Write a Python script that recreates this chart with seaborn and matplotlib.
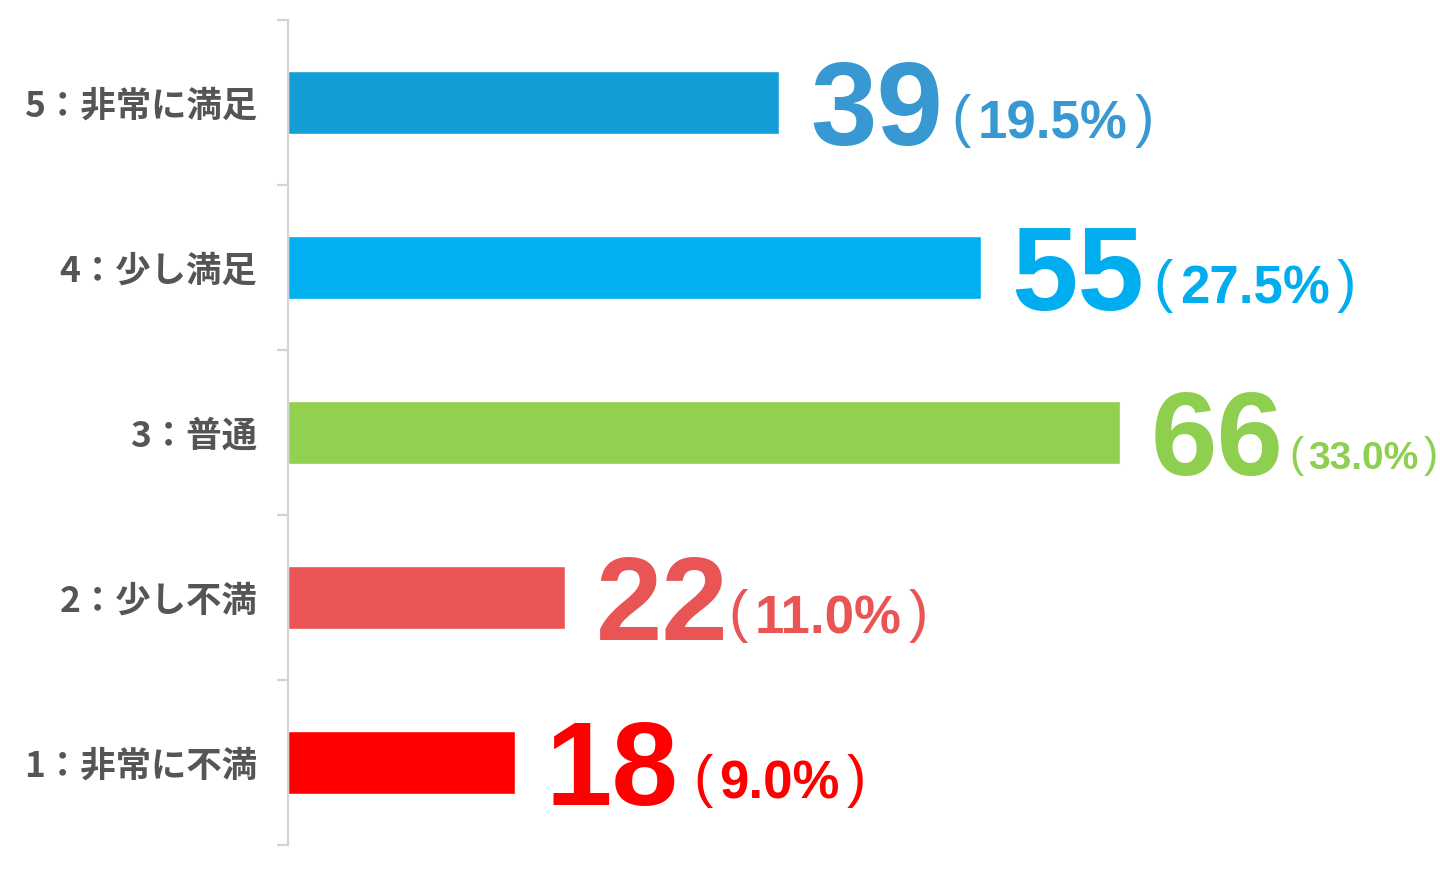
import matplotlib
matplotlib.use("Agg")
import matplotlib.pyplot as plt
import seaborn as sns
import pandas as pd
from matplotlib.font_manager import FontProperties

categories = ["5：非常に満足", "4：少し満足", "3：普通", "2：少し不満", "1：非常に不満"]
counts = [39, 55, 66, 22, 18]
percents = ["19.5%", "27.5%", "33.0%", "11.0%", "9.0%"]

bar_colors = ["#149ed7", "#00b0f0", "#92d050", "#eb5455", "#ff0000"]
text_colors = ["#3798d2", "#00aeef", "#8ecf4f", "#e95455", "#ff0000"]
pct_sizes = [38, 38, 28, 38, 38]
pct_gaps = [9, 9, 6, 0, 15]

sns.set_theme(style="white")
plt.rcParams['font.family'] = ['Noto Sans CJK JP', 'DejaVu Sans']

DPI = 100
fig = plt.figure(figsize=(14.4, 8.74), dpi=DPI)
ax = fig.add_axes([288 / 1440, 29 / 874, 1 - 288 / 1440, (845 - 20) / 874])

df = pd.DataFrame({"cat": categories, "n": counts})
sns.barplot(data=df, y="cat", x="n", hue="cat", palette=dict(zip(categories, bar_colors)),
            order=categories, hue_order=categories, orient="h", width=0.38,
            legend=False, ax=ax, saturation=1)

ax.set_xlim(0, 1152 / 12.6)
ax.set_ylim(len(categories) - 0.5, -0.5)
ax.set_xlabel("")
ax.set_ylabel("")
ax.set_xticks([])
for s in ["top", "right", "bottom"]:
    ax.spines[s].set_visible(False)
ax.spines["left"].set_color("#d4d4d4")
ax.spines["left"].set_linewidth(1.6)
ax.set_yticks([i - 0.5 for i in range(len(categories) + 1)], minor=True)
ax.tick_params(axis="y", which="minor", length=8, width=1.6, color="#d4d4d4", left=True)
ax.tick_params(axis="y", which="major", length=0, pad=22)
ax.set_yticks(range(len(categories)))
ax.set_yticklabels(categories, fontsize=25.5, fontweight="bold", color="#555555")

num_fp = FontProperties(family=["Liberation Sans"], weight="bold", size=86)

fig.canvas.draw()
renderer = fig.canvas.get_renderer()
W, H = fig.bbox.width, fig.bbox.height


def put(x, y, s, fp, color):
    t = fig.text(x / W, y / H, s, ha="left", va="baseline", fontproperties=fp, color=color)
    return t.get_window_extent(renderer).x1


for i, (v, p) in enumerate(zip(counts, percents)):
    t = ax.annotate(str(v), xy=(v, i), xytext=(22, -30.5), textcoords="offset points",
                    ha="left", va="baseline", fontproperties=num_fp, color=text_colors[i])
    bb = t.get_window_extent(renderer)
    base = ax.transData.transform((v, i))[1] - 30.5 * DPI / 72 + 6
    s = pct_sizes[i]
    par_fp = FontProperties(family=["Liberation Sans"], weight="normal", size=s * 1.1)
    pct_fp = FontProperties(family=["Liberation Sans"], weight="bold", size=s)
    x = bb.x1 + pct_gaps[i]
    x = put(x, base + s * 0.08, "(", par_fp, text_colors[i])
    x = put(x + s * 0.18, base, p, pct_fp, text_colors[i])
    put(x + s * 0.18, base + s * 0.08, ")", par_fp, text_colors[i])

fig.savefig("out.png", dpi=DPI)
